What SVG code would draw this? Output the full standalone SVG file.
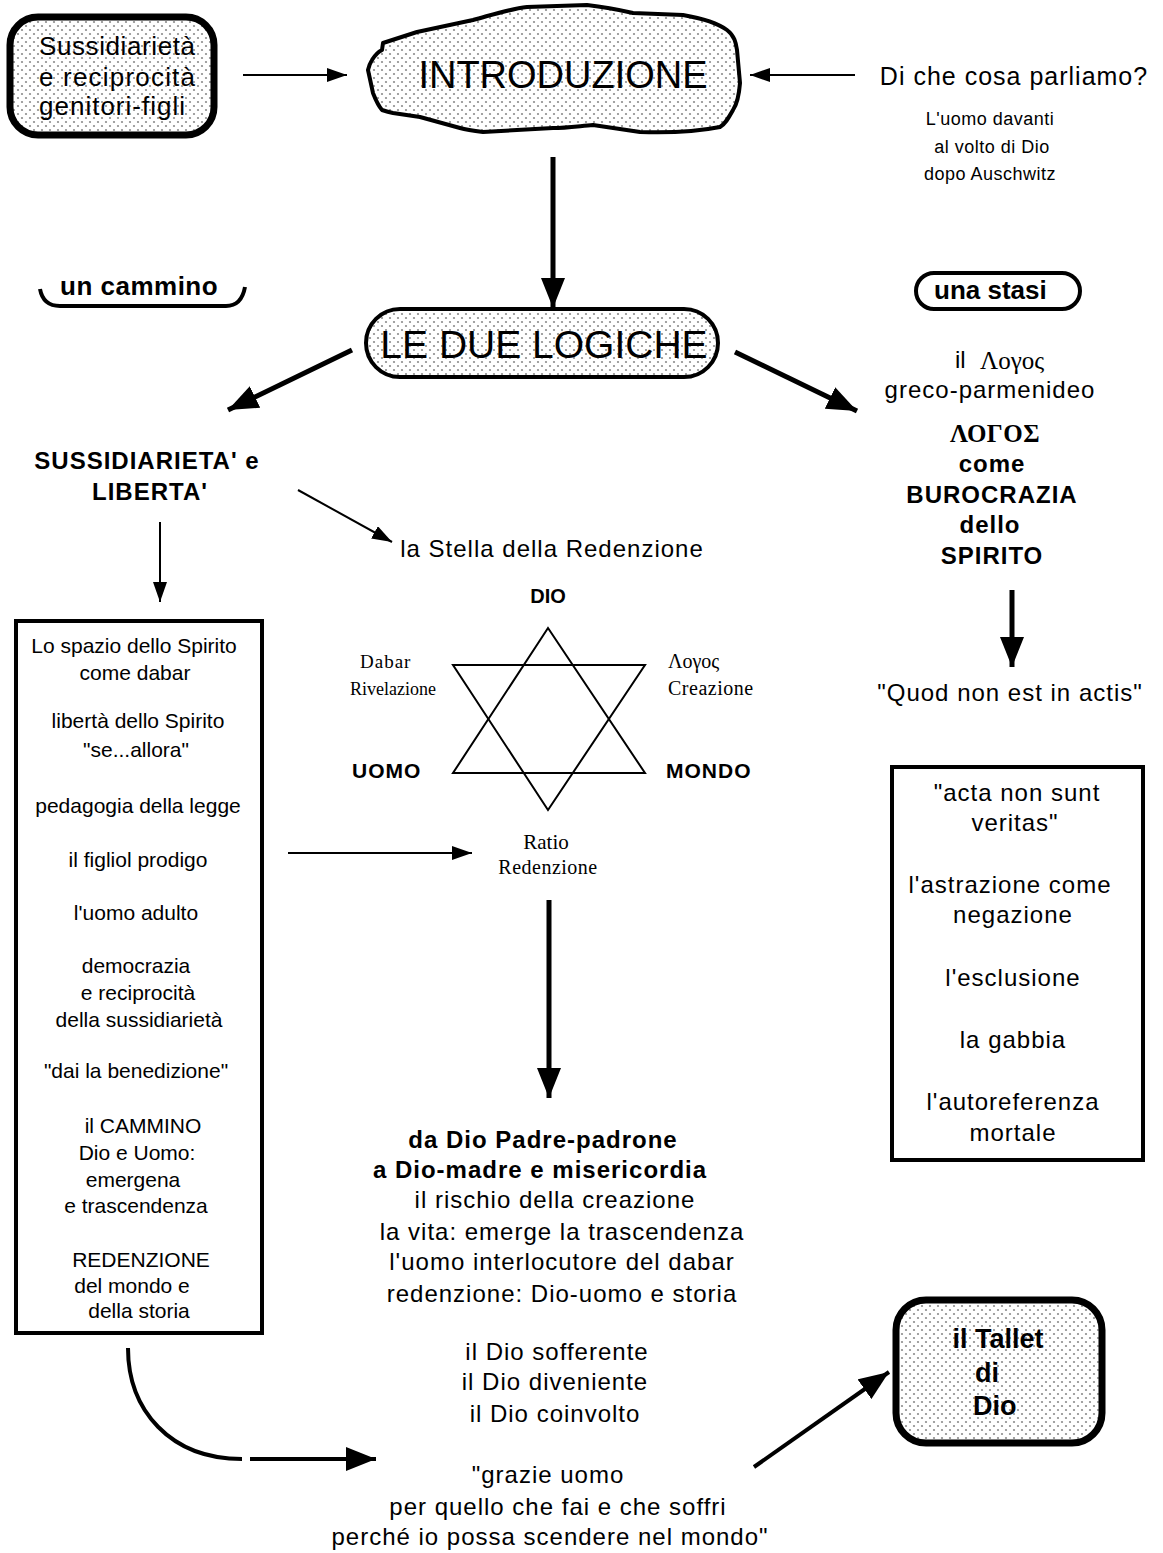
<svg xmlns="http://www.w3.org/2000/svg" width="1163" height="1553" viewBox="0 0 1163 1553">
  <style>
    .sans { font-family: "Liberation Sans", Arial, sans-serif; fill: #000; }
    .serif { font-family: "Liberation Serif", "Times New Roman", serif; fill: #000; }
    .c { text-anchor: middle; }
    .big { font-size: 38px; }
    .body { font-size: 24px; letter-spacing: 1px; }
    .bold { font-weight: bold; }
    .box { font-size: 21px; }
    .small { font-size: 18px; letter-spacing: 0.5px; }
    .line { fill: none; stroke: #000; stroke-linecap: butt; }
    .thin { stroke-width: 2; }
    .thick { stroke-width: 5; }
    .frame { fill: #fff; stroke: #000; }
  </style>
  <defs>
    <pattern id="dots" width="8" height="8" patternUnits="userSpaceOnUse">
      <rect width="8" height="8" fill="#fff"/>
      <circle cx="2" cy="2" r="1.1" fill="#8c8c8c"/>
      <circle cx="6" cy="6" r="1.1" fill="#8c8c8c"/>
    </pattern>
    <marker id="headS" viewBox="0 0 20 14" refX="20" refY="7" markerWidth="20" markerHeight="14" markerUnits="userSpaceOnUse" orient="auto">
      <path d="M0,0 L20,7 L0,14 Z" fill="#000"/>
    </marker>
    <marker id="headL" viewBox="0 0 30 24" refX="30" refY="12" markerWidth="30" markerHeight="24" markerUnits="userSpaceOnUse" orient="auto">
      <path d="M0,0 L30,12 L0,24 Z" fill="#000"/>
    </marker>
  </defs>

  <rect width="1163" height="1553" fill="#fff"/>

  <!-- connectors -->
  <g id="connectors">
    <line class="line thin" x1="243" y1="75" x2="347" y2="75" marker-end="url(#headS)"/>
    <line class="line thin" x1="855" y1="75" x2="750" y2="75" marker-end="url(#headS)"/>
    <line class="line thick" x1="553" y1="157" x2="553" y2="308" marker-end="url(#headL)"/>
    <line class="line thick" x1="352" y1="350" x2="228" y2="410" marker-end="url(#headL)"/>
    <line class="line thick" x1="735" y1="352" x2="857" y2="411" marker-end="url(#headL)"/>
    <line class="line thin" x1="160" y1="522" x2="160" y2="602" marker-end="url(#headS)"/>
    <line class="line thin" x1="298" y1="490" x2="392" y2="542" marker-end="url(#headS)"/>
    <line class="line thick" x1="1012" y1="590" x2="1012" y2="667" marker-end="url(#headL)"/>
    <line class="line thin" x1="288" y1="853" x2="472" y2="853" marker-end="url(#headS)"/>
    <line class="line thick" x1="549" y1="900" x2="549" y2="1098" marker-end="url(#headL)"/>
    <path class="line" stroke-width="4" d="M128,1348 C128,1410 170,1459 242,1459"/>
    <line class="line" stroke-width="4" x1="250" y1="1459" x2="376" y2="1459" marker-end="url(#headL)"/>
    <line class="line" stroke-width="4" x1="754" y1="1467" x2="889" y2="1372" marker-end="url(#headL)"/>
  </g>

  <!-- top-left rounded box -->
  <g id="node-sussidiarieta-genitori">
    <rect x="10" y="17" width="204" height="118" rx="28" fill="url(#dots)" stroke="#000" stroke-width="7"/>
    <text class="sans" font-size="26" x="39" y="55" textLength="156">Sussidiarietà</text>
    <text class="sans" font-size="26" x="39" y="86" textLength="156">e  reciprocità</text>
    <text class="sans" font-size="26" x="39" y="115" textLength="146">genitori-figli</text>
  </g>

  <!-- cloud-shaped title -->
  <g id="node-introduzione">
    <path d="M383,43 L417,32 L473,20 C495,14 510,9 527,7 L587,5 C605,7 620,10 633,13 L683,15 C700,18 716,22 727,30 C735,36 736,44 737,50 L740,83 C739,96 737,104 733,110 C728,119 725,124 720,127 C700,131 670,133 640,132 L593,125 C580,126 566,128 553,128 L483,132 C475,131 467,130 460,128 L420,117 L393,113 C388,112 385,111 382,110 C377,104 375,98 373,93 L368,70 C369,66 370,63 372,60 C375,55 378,52 382,50 Z" fill="url(#dots)" stroke="#000" stroke-width="4" stroke-linejoin="round"/>
    <text class="sans big c" x="563" y="88" font-size="39">INTRODUZIONE</text>
  </g>

  <!-- top-right question -->
  <g id="node-di-che-cosa">
    <text class="sans c" font-size="25" letter-spacing="1" x="1014" y="85">Di che cosa parliamo?</text>
    <text class="sans small c" x="990" y="125">L'uomo davanti</text>
    <text class="sans small c" x="992" y="153">al volto di Dio</text>
    <text class="sans small c" x="990" y="180">dopo Auschwitz</text>
  </g>

  <!-- "un cammino" bracket label -->
  <g id="node-un-cammino">
    <text class="sans bold" font-size="26" letter-spacing="0.5" x="60" y="295">un cammino</text>
    <path class="line" stroke-width="4" d="M40,289 C42,300 48,306 60,306 L226,306 C238,306 243,298 245,287"/>
  </g>

  <!-- central pill -->
  <g id="node-le-due-logiche">
    <rect x="366" y="309" width="352" height="68" rx="34" fill="url(#dots)" stroke="#000" stroke-width="4"/>
    <text class="sans c" font-size="39" x="544" y="358">LE DUE LOGICHE</text>
  </g>

  <!-- "una stasi" pill label -->
  <g id="node-una-stasi">
    <rect x="916" y="273" width="164" height="36" rx="18" fill="#fff" stroke="#000" stroke-width="4"/>
    <text class="sans bold" font-size="26" x="934" y="299">una stasi</text>
  </g>

  <!-- right column: logos -->
  <g id="node-logos">
    <text class="sans" font-size="24" x="955" y="368">il</text>
    <text class="serif" font-size="25" x="980" y="369">Λογος</text>
    <text class="sans body c" x="990" y="398">greco-parmenideo</text>
    <text class="serif bold c" font-size="25" letter-spacing="0.5" x="995" y="442">ΛΟΓΟΣ</text>
    <text class="sans body bold c" x="992" y="472">come</text>
    <text class="sans body bold c" x="992" y="503">BUROCRAZIA</text>
    <text class="sans body bold c" x="990" y="533">dello</text>
    <text class="sans body bold c" x="992" y="564">SPIRITO</text>
  </g>

  <g id="node-quod-non-est">
    <text class="sans body c" x="1010" y="701">"Quod non est in actis"</text>
  </g>

  <!-- right list box -->
  <g id="node-acta-non-sunt">
    <rect class="frame" x="892" y="767" width="251" height="393" stroke-width="4"/>
    <g class="sans body c">
      <text x="1017" y="801">"acta non sunt</text>
      <text x="1015" y="831">veritas"</text>
      <text x="1010" y="893">l'astrazione come</text>
      <text x="1013" y="923">negazione</text>
      <text x="1013" y="986">l'esclusione</text>
      <text x="1013" y="1048">la gabbia</text>
      <text x="1013" y="1110">l'autoreferenza</text>
      <text x="1013" y="1141">mortale</text>
    </g>
  </g>

  <!-- left column heading -->
  <g id="node-sussidiarieta-liberta">
    <text class="sans body bold c" x="147" y="469">SUSSIDIARIETA' e</text>
    <text class="sans body bold c" x="150" y="500">LIBERTA'</text>
  </g>

  <!-- star of redemption -->
  <g id="node-stella">
    <text class="sans body c" x="552" y="557">la Stella della Redenzione</text>
    <text class="sans bold c" font-size="20" x="548" y="603">DIO</text>
    <path class="line" stroke-width="2" stroke-linejoin="miter" d="M548,628 L645,773 L453,773 Z"/>
    <path class="line" stroke-width="2" stroke-linejoin="miter" d="M453,665 L645,665 L548,810 Z"/>
    <text class="serif" font-size="19" letter-spacing="1" x="360" y="668">Dabar</text>
    <text class="serif" font-size="18" x="350" y="695">Rivelazione</text>
    <text class="serif" font-size="20" x="668" y="668">Λογος</text>
    <text class="serif" font-size="20" letter-spacing="0.5" x="668" y="695">Creazione</text>
    <text class="sans bold" font-size="21" letter-spacing="1" x="352" y="778">UOMO</text>
    <text class="sans bold" font-size="21" letter-spacing="1" x="666" y="778">MONDO</text>
    <text class="serif c" font-size="21" x="546" y="849">Ratio</text>
    <text class="serif c" font-size="20" letter-spacing="0.5" x="548" y="874">Redenzione</text>
  </g>

  <!-- left list box -->
  <g id="node-spazio-spirito">
    <rect class="frame" x="16" y="621" width="246" height="712" stroke-width="4"/>
    <g class="sans box c">
      <text x="134" y="653">Lo spazio dello Spirito</text>
      <text x="135" y="680">come dabar</text>
      <text x="138" y="728">libertà dello Spirito</text>
      <text x="136" y="757">"se...allora"</text>
      <text x="138" y="813">pedagogia della legge</text>
      <text x="138" y="867">il figliol prodigo</text>
      <text x="136" y="920">l'uomo adulto</text>
      <text x="136" y="973">democrazia</text>
      <text x="138" y="1000">e reciprocità</text>
      <text x="139" y="1027">della sussidiarietà</text>
      <text x="136" y="1078">"dai la benedizione"</text>
      <text x="143" y="1133">il CAMMINO</text>
      <text x="137" y="1160">Dio e Uomo:</text>
      <text x="133" y="1187">emergena</text>
      <text x="136" y="1213">e trascendenza</text>
      <text x="141" y="1267">REDENZIONE</text>
      <text x="132" y="1293">del mondo e</text>
      <text x="139" y="1318">della storia</text>
    </g>
  </g>

  <!-- central text block -->
  <g id="node-da-dio-padre">
    <g class="sans body c">
      <text class="bold" x="543" y="1148">da Dio Padre-padrone</text>
      <text class="bold" x="540" y="1178">a Dio-madre e misericordia</text>
      <text x="555" y="1208">il rischio della creazione</text>
      <text x="562" y="1240">la vita: emerge la trascendenza</text>
      <text x="562" y="1270">l'uomo interlocutore del dabar</text>
      <text x="562" y="1302">redenzione: Dio-uomo e storia</text>
      <text x="557" y="1360">il Dio sofferente</text>
      <text x="555" y="1390">il Dio diveniente</text>
      <text x="555" y="1422">il Dio coinvolto</text>
      <text x="548" y="1483">"grazie uomo</text>
      <text x="558" y="1515">per quello che fai e che soffri</text>
      <text x="550" y="1545">perché io possa scendere nel mondo"</text>
    </g>
  </g>

  <!-- bottom-right rounded box -->
  <g id="node-tallet">
    <rect x="896" y="1300" width="206" height="143" rx="30" fill="url(#dots)" stroke="#000" stroke-width="7"/>
    <text class="sans bold c" font-size="27" x="998" y="1348">il Tallet</text>
    <text class="sans bold" font-size="27" x="975" y="1382">di</text>
    <text class="sans bold" font-size="27" x="973" y="1415">Dio</text>
  </g>
</svg>
